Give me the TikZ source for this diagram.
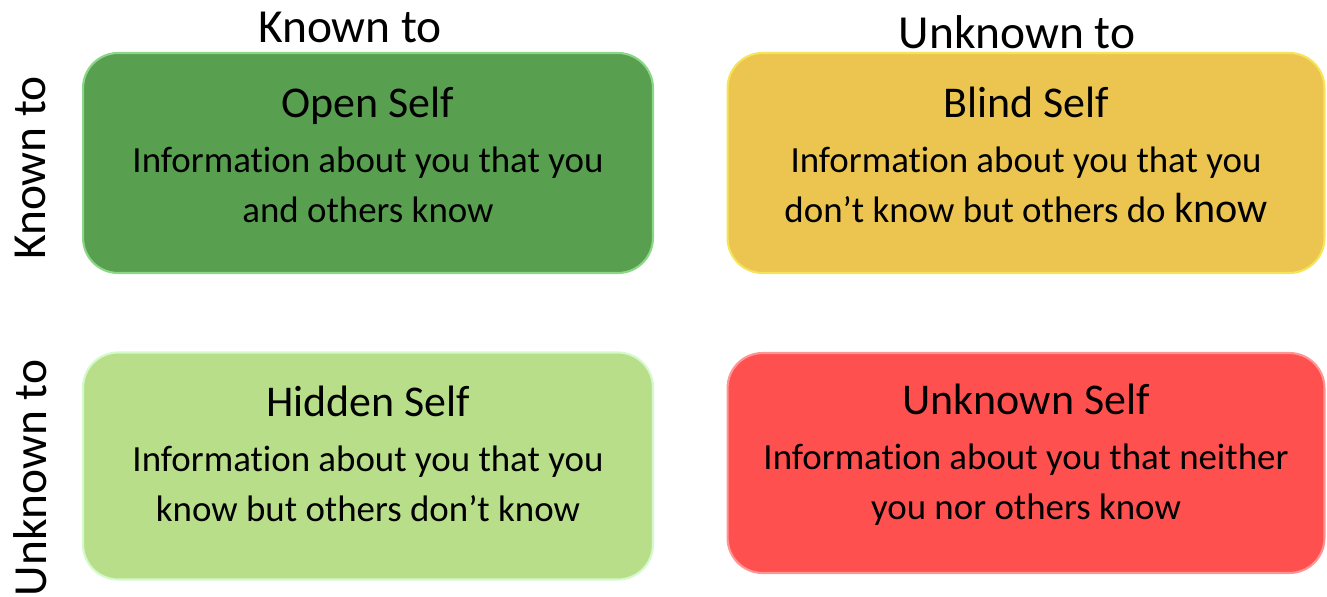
\documentclass[tikz,border=0pt]{standalone}
\usepackage{fontspec}
\setmainfont{Carlito}[Ligatures=NoCommon]
\definecolor{opengreen}{RGB}{88,160,80}
\definecolor{blindyellow}{RGB}{235,197,79}
\definecolor{hiddengreen}{RGB}{184,222,138}
\definecolor{unknownred}{RGB}{255,80,80}
\newcommand{\panetitle}[1]{{\fontsize{25}{30}\selectfont #1}\\[3pt]}
\begin{document}
\begin{tikzpicture}[x=0.02cm,y=-0.02cm,
        pane/.style={rounded corners=0.7cm, inner sep=0pt, line width=1.2pt},
        panetext/.style={align=center, inner sep=0pt,
            font=\fontsize{21}{28.5}\selectfont},
        head/.style={font=\fontsize{27}{32}\selectfont, inner sep=0pt}]
    \useasboundingbox (0,0) rectangle (1327,597);

    % the four panes
    \node[pane, fill=opengreen, draw=opengreen!70!green!60!white,
        minimum width=11.4cm, minimum height=4.4cm] (open) at (368,163) {};
    \node[pane, fill=blindyellow, draw=blindyellow!60!yellow!80!white,
        minimum width=11.94cm, minimum height=4.4cm] (blind) at (1026,163) {};
    \node[pane, fill=hiddengreen, draw=hiddengreen!60!green!30!white,
        minimum width=11.4cm, minimum height=4.54cm] (hidden) at (368,466) {};
    \node[pane, fill=unknownred, draw=unknownred!60!white,
        minimum width=11.94cm, minimum height=4.4cm] (unknown) at (1026,463) {};

    \node[panetext] (opentext) at ([yshift=0.16cm]open.center)
        {\panetitle{Open Self}
         Information about you that you\\
         and others know};
    \node[panetext] (blindtext) at ([yshift=0.16cm]blind.center)
        {\panetitle{Blind Self}
         Information about you that you\\
         don't know but others do {\fontsize{24}{30}\selectfont know}};
    \node[panetext] (hiddentext) at ([yshift=0.24cm]hidden.center)
        {\panetitle{Hidden Self}
         Information about you that you\\
         know but others don't know};
    \node[panetext] (unknowntext) at ([yshift=0.16cm]unknown.center)
        {\panetitle{Unknown Self}
         Information about you that neither\\
         you nor others know};

    % column and row headings
    \node[head] (colknown) at (350,27) {Known to};
    \node[head] (colunknown) at (1017,32) {Unknown to};
    \node[head, rotate=90] (rowknown) at (30,168) {Known to};
    \node[head, rotate=90] (rowunknown) at (30,478) {Unknown to};
\end{tikzpicture}
\end{document}
